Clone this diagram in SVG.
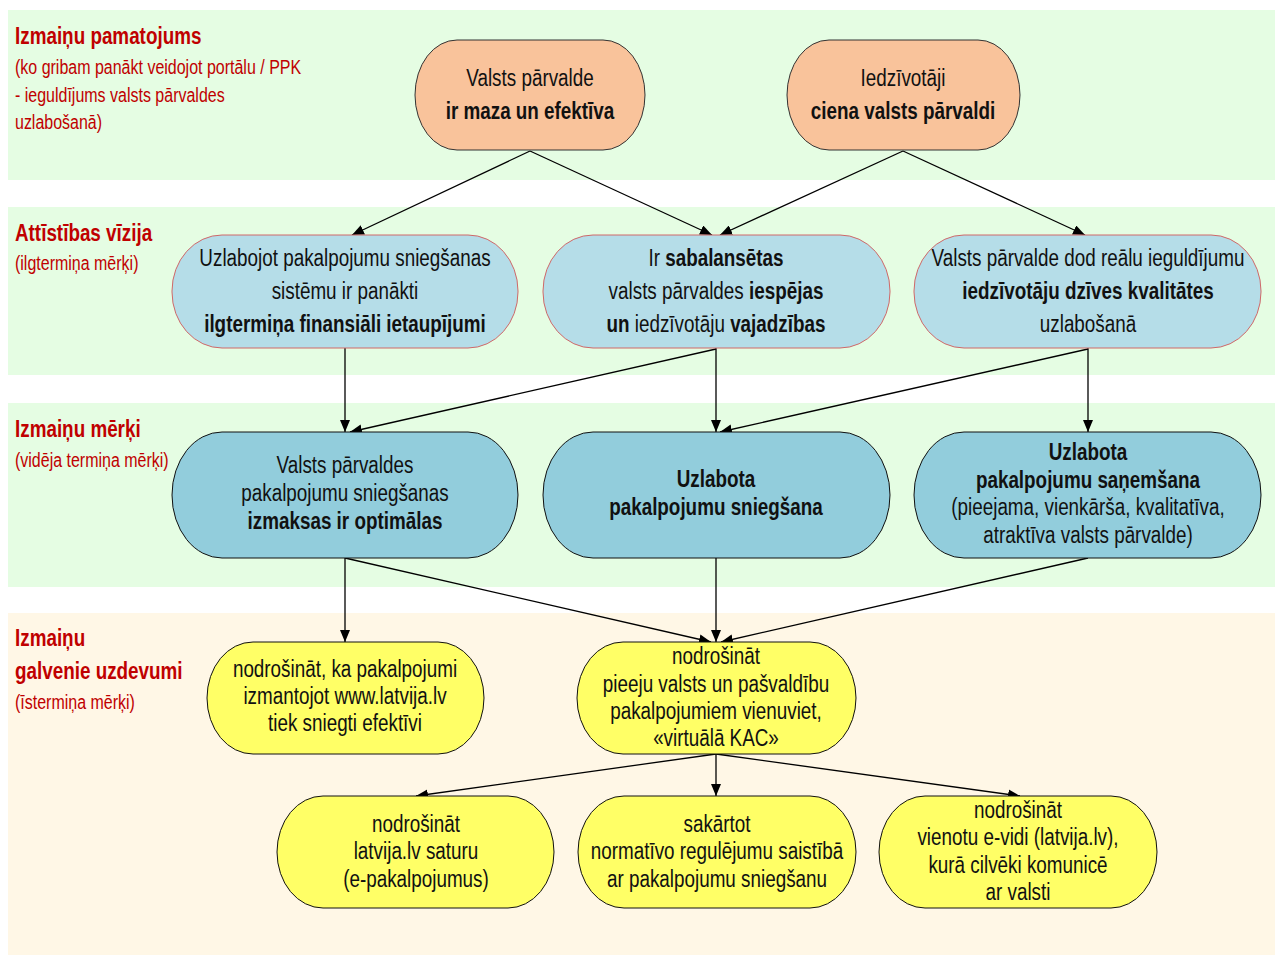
<svg xmlns="http://www.w3.org/2000/svg" width="1275" height="959" viewBox="0 0 1275 959">
<style>
text{font-family:"Liberation Sans",Arial,sans-serif;}
.t{font-size:23px;fill:#111;text-anchor:middle;}
.b{font-weight:bold;}
.lh{font-size:23px;font-weight:bold;fill:#c00000;}
.ls{font-size:19.5px;fill:#c00000;}
.or{fill:#f9c39b;stroke:#333;stroke-width:1;}
.lb{fill:#b5dde8;stroke:#d06868;stroke-width:1;}
.mb{fill:#92cddc;stroke:#111;stroke-width:1;}
.ye{fill:#ffff66;stroke:#111;stroke-width:1;}
.e{stroke:#000;stroke-width:1.3;fill:none;marker-end:url(#ah);}
</style>
<defs>
<marker id="ah" viewBox="0 0 12 10" refX="12" refY="5" markerWidth="12" markerHeight="10" markerUnits="userSpaceOnUse" orient="auto">
<path d="M0,0 L12,5 L0,10 z" fill="#000"/>
</marker>
</defs>
<rect width="1275" height="959" fill="#fff"/>
<g id="bands">
<rect x="8" y="10" width="1267" height="170" fill="#e5fde3"/>
<rect x="8" y="207" width="1267" height="168" fill="#e5fde3"/>
<rect x="8" y="403" width="1267" height="184" fill="#e5fde3"/>
<rect x="8" y="613" width="1267" height="342" fill="#fff7e6"/>
</g>
<g id="labels" transform="matrix(0.82 0 0 1 2.7 0)">
<text class="lh" x="15" y="44">Izmaiņu pamatojums</text>
<text class="ls" x="15" y="74">(ko gribam panākt veidojot portālu / PPK</text>
<text class="ls" x="15" y="102">- ieguldījums valsts pārvaldes</text>
<text class="ls" x="15" y="129">uzlabošanā)</text>
<text class="lh" x="15" y="241">Attīstības vīzija</text>
<text class="ls" x="15" y="270">(ilgtermiņa mērķi)</text>
<text class="lh" x="15" y="437">Izmaiņu mērķi</text>
<text class="ls" x="15" y="467">(vidēja termiņa mērķi)</text>
<text class="lh" x="15" y="646">Izmaiņu</text>
<text class="lh" x="15" y="679">galvenie uzdevumi</text>
<text class="ls" x="15" y="709">(īstermiņa mērķi)</text>
</g>
<g id="connectors">
<line class="e" x1="530" y1="151" x2="352" y2="235"/>
<line class="e" x1="530" y1="151" x2="712" y2="235"/>
<line class="e" x1="903" y1="151" x2="720" y2="235"/>
<line class="e" x1="903" y1="151" x2="1085" y2="235"/>
<line class="e" x1="345" y1="348" x2="345" y2="432"/>
<line class="e" x1="716" y1="349" x2="350" y2="432"/>
<line class="e" x1="716" y1="348" x2="716" y2="432"/>
<line class="e" x1="1088" y1="349" x2="720" y2="432"/>
<line class="e" x1="1088" y1="348" x2="1088" y2="432"/>
<line class="e" x1="345" y1="558" x2="345" y2="642"/>
<line class="e" x1="345" y1="558" x2="711" y2="642"/>
<line class="e" x1="716" y1="558" x2="716" y2="642"/>
<line class="e" x1="1088" y1="558" x2="721" y2="642"/>
<line class="e" x1="716" y1="754" x2="416" y2="796"/>
<line class="e" x1="716" y1="754" x2="716" y2="796"/>
<line class="e" x1="716" y1="754" x2="1020" y2="796"/>
</g>
<g id="n1"><rect class="or" x="415" y="40" width="230" height="110" rx="42" ry="55"/>
<g transform="matrix(0.82 0 0 1 95.4 0)">
<text class="t" x="530" y="86">Valsts pārvalde</text>
<text class="t b" x="530" y="119">ir maza un efektīva</text></g></g>
<g id="n2"><rect class="or" x="787" y="40" width="233" height="110" rx="42" ry="55"/>
<g transform="matrix(0.82 0 0 1 162.54 0)">
<text class="t" x="903" y="86">Iedzīvotāji</text>
<text class="t b" x="903" y="119">ciena valsts pārvaldi</text></g></g>
<g id="v1"><rect class="lb" x="172" y="235" width="346" height="113" rx="50" ry="56"/>
<g transform="matrix(0.82 0 0 1 62.1 0)">
<text class="t" x="345" y="266">Uzlabojot pakalpojumu sniegšanas</text>
<text class="t" x="345" y="299">sistēmu ir panākti</text>
<text class="t b" x="345" y="332">ilgtermiņa finansiāli ietaupījumi</text></g></g>
<g id="v2"><rect class="lb" x="543" y="235" width="347" height="113" rx="50" ry="56"/>
<g transform="matrix(0.82 0 0 1 128.88 0)">
<text class="t" x="716" y="266">Ir <tspan class="b">sabalansētas</tspan></text>
<text class="t" x="716" y="299">valsts pārvaldes <tspan class="b">iespējas</tspan></text>
<text class="t" x="716" y="332"><tspan class="b">un</tspan> iedzīvotāju <tspan class="b">vajadzības</tspan></text></g></g>
<g id="v3"><rect class="lb" x="914" y="235" width="347" height="113" rx="50" ry="56"/>
<g transform="matrix(0.82 0 0 1 195.84 0)">
<text class="t" x="1088" y="266">Valsts pārvalde dod reālu ieguldījumu</text>
<text class="t b" x="1088" y="299">iedzīvotāju dzīves kvalitātes</text>
<text class="t" x="1088" y="332">uzlabošanā</text></g></g>
<g id="m1"><rect class="mb" x="172" y="432" width="346" height="126" rx="50" ry="63"/>
<g transform="matrix(0.82 0 0 1 62.1 0)">
<text class="t" x="345" y="473">Valsts pārvaldes</text>
<text class="t" x="345" y="501">pakalpojumu sniegšanas</text>
<text class="t b" x="345" y="529">izmaksas ir optimālas</text></g></g>
<g id="m2"><rect class="mb" x="543" y="432" width="347" height="126" rx="50" ry="63"/>
<g transform="matrix(0.82 0 0 1 128.88 0)">
<text class="t b" x="716" y="487">Uzlabota</text>
<text class="t b" x="716" y="515">pakalpojumu sniegšana</text></g></g>
<g id="m3"><rect class="mb" x="914" y="432" width="347" height="126" rx="50" ry="63"/>
<g transform="matrix(0.82 0 0 1 195.84 0)">
<text class="t b" x="1088" y="460">Uzlabota</text>
<text class="t b" x="1088" y="488">pakalpojumu saņemšana</text>
<text class="t" x="1088" y="515">(pieejama, vienkārša, kvalitatīva,</text>
<text class="t" x="1088" y="543">atraktīva valsts pārvalde)</text></g></g>
<g id="u1"><rect class="ye" x="207" y="642" width="277" height="112" rx="46" ry="56"/>
<g transform="matrix(0.82 0 0 1 62.1 0)">
<text class="t" x="345" y="677">nodrošināt, ka pakalpojumi</text>
<text class="t" x="345" y="704">izmantojot www.latvija.lv</text>
<text class="t" x="345" y="731">tiek sniegti efektīvi</text></g></g>
<g id="u2"><rect class="ye" x="577" y="642" width="279" height="112" rx="46" ry="56"/>
<g transform="matrix(0.82 0 0 1 128.88 0)">
<text class="t" x="716" y="664">nodrošināt</text>
<text class="t" x="716" y="692">pieeju valsts un pašvaldību</text>
<text class="t" x="716" y="719">pakalpojumiem vienuviet,</text>
<text class="t" x="716" y="746">«virtuālā KAC»</text></g></g>
<g id="u3"><rect class="ye" x="277" y="796" width="277" height="112" rx="46" ry="56"/>
<g transform="matrix(0.82 0 0 1 74.88 0)">
<text class="t" x="416" y="832">nodrošināt</text>
<text class="t" x="416" y="859">latvija.lv saturu</text>
<text class="t" x="416" y="887">(e-pakalpojumus)</text></g></g>
<g id="u4"><rect class="ye" x="578" y="796" width="278" height="112" rx="46" ry="56"/>
<g transform="matrix(0.82 0 0 1 129.06 0)">
<text class="t" x="717" y="832">sakārtot</text>
<text class="t" x="717" y="859">normatīvo regulējumu saistībā</text>
<text class="t" x="717" y="887">ar pakalpojumu sniegšanu</text></g></g>
<g id="u5"><rect class="ye" x="879" y="796" width="278" height="112" rx="46" ry="56"/>
<g transform="matrix(0.82 0 0 1 183.24 0)">
<text class="t" x="1018" y="818">nodrošināt</text>
<text class="t" x="1018" y="845">vienotu e-vidi (latvija.lv),</text>
<text class="t" x="1018" y="873">kurā cilvēki komunicē</text>
<text class="t" x="1018" y="900">ar valsti</text></g></g>
</svg>
